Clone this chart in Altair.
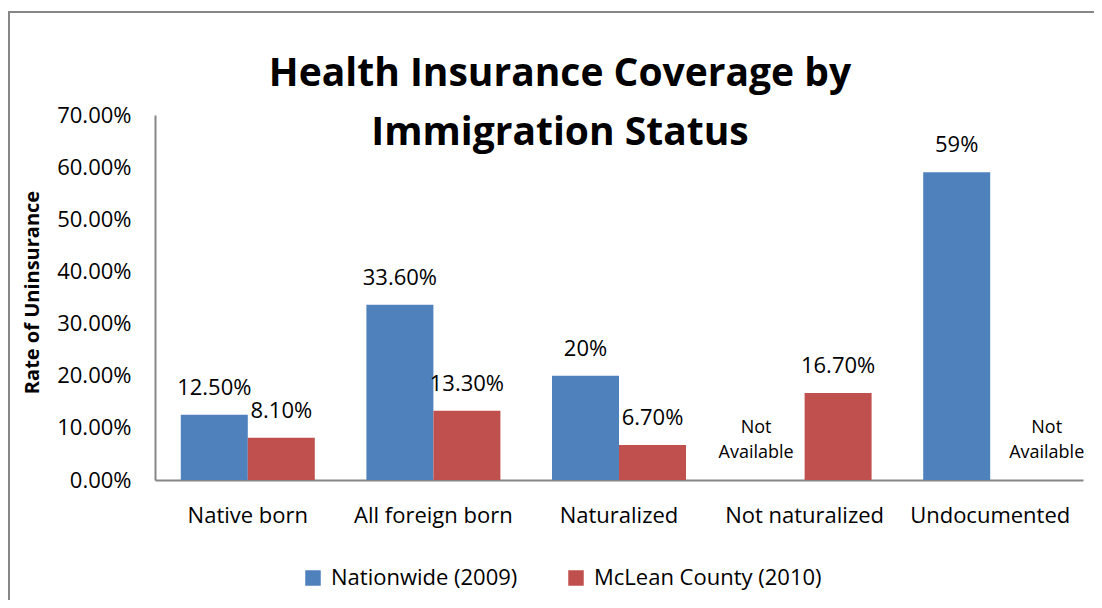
import altair as alt
import pandas as pd

categories = ["Native born", "All foreign born", "Naturalized", "Not naturalized", "Undocumented"]
series_names = ["Nationwide (2009)", "McLean County (2010)"]
nationwide = [0.125, 0.336, 0.20, None, 0.59]
mclean = [0.081, 0.133, 0.067, 0.167, None]
nationwide_labels = ["12.50%", "33.60%", "20%", None, "59%"]
mclean_labels = ["8.10%", "13.30%", "6.70%", "16.70%", None]
na_text = "Not\nAvailable"
title_text = "Health Insurance Coverage by\nImmigration Status"
y_ticks = [0, 0.1, 0.2, 0.3, 0.4, 0.5, 0.6, 0.7]
colors = ["#4F81BD", "#C0504D"]

rows = []
for s, vals, labs in [(series_names[0], nationwide, nationwide_labels),
                      (series_names[1], mclean, mclean_labels)]:
    for c, v, l in zip(categories, vals, labs):
        rows.append({"category": c, "series": s, "value": v,
                     "label": l if l is not None else na_text})
df = pd.DataFrame(rows)

FONT = "Open Sans"

x_enc = alt.X("category:N", sort=categories,
              scale=alt.Scale(paddingInner=0.278, paddingOuter=0.139),
              axis=alt.Axis(title=None, labelAngle=0, ticks=False, labelFontSize=22,
                            labelColor="#000000", labelPadding=25, domainColor="#868686",
                            domainWidth=2, labelFont=FONT))
xo_enc = alt.XOffset("series:N", sort=series_names, scale=alt.Scale(paddingInner=0, paddingOuter=0))
y_scale = alt.Scale(domain=[0, 0.7], nice=False)

base = alt.Chart(df)

bars = base.mark_bar().transform_filter("datum.value != null").encode(
    x=x_enc,
    xOffset=xo_enc,
    y=alt.Y("value:Q", scale=y_scale,
            axis=alt.Axis(values=y_ticks, format=".2%", ticks=False, grid=False,
                          labelFontSize=22, labelColor="#000000", labelPadding=24,
                          labelFont=FONT, domainColor="#868686", domainWidth=2,
                          title="Rate of Uninsurance", titleFontSize=20, titleFont=FONT,
                          titleFontWeight="bold", titleColor="#000000",
                          titleX=-123, titleY=177, titleBaseline="middle")),
    color=alt.Color("series:N", sort=series_names,
                    scale=alt.Scale(domain=series_names, range=colors),
                    legend=alt.Legend(title=None, orient="none", legendX=147, legendY=452,
                                      direction="horizontal", symbolType="square",
                                      symbolSize=240, symbolStrokeWidth=0,
                                      labelFontSize=22, labelFont=FONT, labelColor="#000000",
                                      labelLimit=500, labelOffset=7, columnPadding=47,
                                      padding=0)),
)

labels = base.mark_text(fontSize=22, font=FONT, color="#000000", baseline="alphabetic", dy=-20).transform_filter(
    "datum.value != null").encode(
    x=alt.X("category:N", sort=categories),
    xOffset=alt.XOffset("series:N", sort=series_names),
    y=alt.Y("value:Q"),
    text="label:N",
)

na1 = base.mark_text(fontSize=18, font=FONT, color="#000000", baseline="alphabetic",
                     lineBreak="\n", lineHeight=25, dy=-47, dx=-15).transform_filter(
    "datum.value == null && datum.series == 'Nationwide (2009)'").encode(
    x=alt.X("category:N", sort=categories),
    xOffset=alt.XOffset("series:N", sort=series_names),
    y=alt.datum(0),
    text="label:N",
)
na2 = base.mark_text(fontSize=18, font=FONT, color="#000000", baseline="alphabetic",
                     lineBreak="\n", lineHeight=25, dy=-47, dx=23).transform_filter(
    "datum.value == null && datum.series == 'McLean County (2010)'").encode(
    x=alt.X("category:N", sort=categories),
    xOffset=alt.XOffset("series:N", sort=series_names),
    y=alt.datum(0),
    text="label:N",
)

title = alt.Chart(pd.DataFrame({"t": [title_text]})).mark_text(
    fontSize=39, font=FONT, fontWeight="bold", color="#000000", baseline="alphabetic",
    align="center", lineBreak="\n", lineHeight=59).encode(
    x=alt.value(405), y=alt.value(-29), text="t:N")

border = alt.Chart(pd.DataFrame({"b": [1]})).mark_rect(
    fill=None, stroke="#878787", strokeWidth=2).encode(
    x=alt.value(-146), x2=alt.value(1000), y=alt.value(-103), y2=alt.value(560))

chart = alt.layer(border, bars, labels, na1, na2, title).properties(
    width=928, height=365,
    padding={"left": 147, "top": 107, "right": 11, "bottom": 120},
    autosize=alt.AutoSizeParams(type="none"),
    background="white",
).configure_view(stroke=None)

chart.save("out.html", embed_options={"renderer": "svg", "actions": False})
